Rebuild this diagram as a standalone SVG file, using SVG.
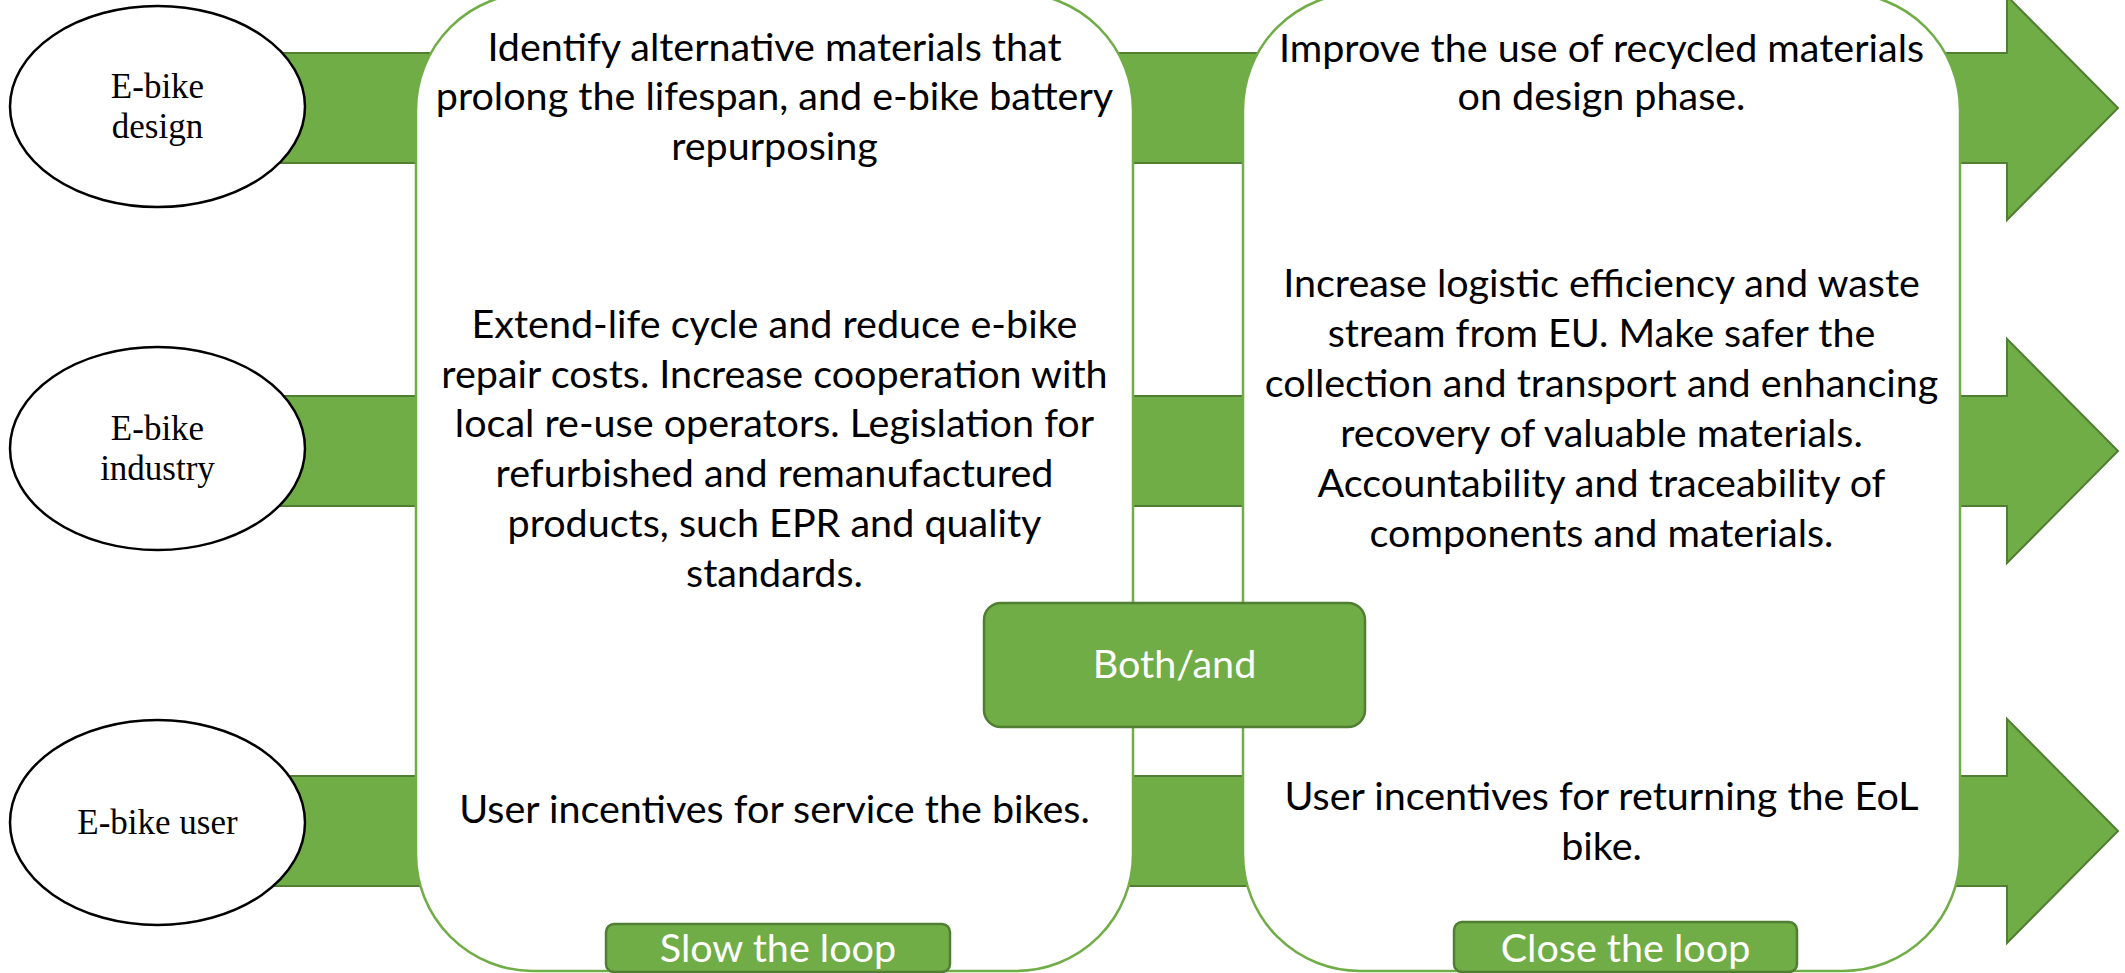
<svg xmlns="http://www.w3.org/2000/svg" width="2125" height="973" viewBox="0 0 2125 973">
<style>
.arrow{fill:#70AD47;stroke:#507E32;stroke-width:2;stroke-linejoin:miter}
.ell{fill:#FFFFFF;stroke:#000000;stroke-width:2.5}
.ellt{font-family:"Liberation Serif","Times New Roman",serif;font-size:35px;fill:#000000;text-anchor:middle}
.panel{fill:#FFFFFF;stroke:#70AD47;stroke-width:2.5}
.body{font-family:Lato,"Liberation Sans",sans-serif;font-size:39.5px;fill:#000000;text-anchor:middle}
.tag{fill:#70AD47;stroke:#507E32;stroke-width:2.5}
.tagt{font-family:Lato,"Liberation Sans",sans-serif;font-size:39.5px;fill:#FFFFFF;text-anchor:middle}
</style>
<rect x="0" y="0" width="2125" height="973" fill="#FFFFFF"/>
<g id="connectors">
<polygon class="arrow" points="200,53 2007,53 2007,-4 2118,108 2007,220 2007,163 200,163"/>
<polygon class="arrow" points="200,396 2007,396 2007,339 2118,451 2007,563 2007,506 200,506"/>
<polygon class="arrow" points="200,776 2007,776 2007,719 2118,831 2007,943 2007,886 200,886"/>
</g>
<g id="slow-panel">
<rect class="panel" x="416" y="-7" width="717" height="978" rx="117" ry="117"/>
<text class="body" x="774.5"><tspan x="774.5" y="61">Identify alternative materials that</tspan><tspan x="774.5" y="110">prolong the lifespan, and e-bike battery</tspan><tspan x="774.5" y="160">repurposing</tspan></text>
<text class="body" x="774.5"><tspan x="774.5" y="338">Extend-life cycle and reduce e-bike</tspan><tspan x="774.5" y="388">repair costs. Increase cooperation with</tspan><tspan x="774.5" y="437">local re-use operators. Legislation for</tspan><tspan x="774.5" y="487">refurbished and remanufactured</tspan><tspan x="774.5" y="537">products, such EPR and quality</tspan><tspan x="774.5" y="587">standards.</tspan></text>
<text class="body" x="774.5" y="823">User incentives for service the bikes.</text>
</g>
<g id="close-panel">
<rect class="panel" x="1243" y="-7" width="717" height="978" rx="117" ry="117"/>
<text class="body" x="1601.5"><tspan x="1601.5" y="62">Improve the use of recycled materials</tspan><tspan x="1601.5" y="110">on design phase.</tspan></text>
<text class="body" x="1601.5"><tspan x="1601.5" y="297">Increase logistic efficiency and waste</tspan><tspan x="1601.5" y="347">stream from EU. Make safer the</tspan><tspan x="1601.5" y="397">collection and transport and enhancing</tspan><tspan x="1601.5" y="447">recovery of valuable materials.</tspan><tspan x="1601.5" y="497">Accountability and traceability of</tspan><tspan x="1601.5" y="547">components and materials.</tspan></text>
<text class="body" x="1601.5"><tspan x="1601.5" y="810">User incentives for returning the EoL</tspan><tspan x="1601.5" y="860">bike.</tspan></text>
</g>
<g id="ebike-design">
<ellipse class="ell" cx="157.5" cy="106.5" rx="147.5" ry="100.5"/>
<text class="ellt"><tspan x="157.5" y="98">E-bike</tspan><tspan x="157.5" y="138">design</tspan></text>
</g>
<g id="ebike-industry">
<ellipse class="ell" cx="157.5" cy="448.5" rx="147.5" ry="101.5"/>
<text class="ellt"><tspan x="157.5" y="440">E-bike</tspan><tspan x="157.5" y="480">industry</tspan></text>
</g>
<g id="ebike-user">
<ellipse class="ell" cx="157.5" cy="822.5" rx="147.5" ry="102.5"/>
<text class="ellt" x="157.5" y="834">E-bike user</text>
</g>
<g id="both-and">
<rect class="tag" x="984" y="603" width="381" height="124" rx="17" ry="17"/>
<text class="tagt" x="1174.5" y="678">Both/and</text>
</g>
<g id="slow-the-loop">
<rect class="tag" x="606" y="924" width="344" height="48" rx="8" ry="8"/>
<text class="tagt" x="778" y="962">Slow the loop</text>
</g>
<g id="close-the-loop">
<rect class="tag" x="1454" y="922" width="343" height="50" rx="8" ry="8"/>
<text class="tagt" x="1625.5" y="962">Close the loop</text>
</g>
</svg>
